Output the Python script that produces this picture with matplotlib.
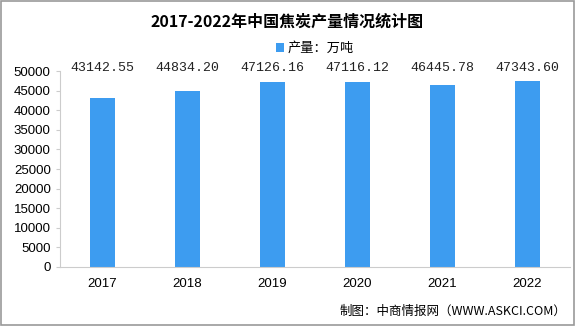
import matplotlib.pyplot as plt
from matplotlib.patches import Rectangle

plt.rcParams['font.family'] = ['Noto Sans CJK SC', 'DejaVu Sans']

years = ['2017', '2018', '2019', '2020', '2021', '2022']
output = [43142.55, 44834.20, 47126.16, 47116.12, 46445.78, 47343.60]
yticks = list(range(0, 50001, 5000))

fig = plt.figure(figsize=(5.75, 3.26), dpi=100)
ax = fig.add_axes([0.104, 0.181, 0.887, 0.601])

bar_color = '#3d9cf0'
ax.bar(years, output, width=0.3, color=bar_color, label='产量：万吨')

# value labels, all on one line at the top of the plot
for i, v in enumerate(output):
    ax.text(i, 50800, f'{v:.2f}', ha='center', va='center', clip_on=False,
            fontsize=9.5, family='Liberation Mono', color='#222222')

ax.set_ylim(0, 50000)
ax.set_xlim(-0.5, 5.5)
ax.set_yticks(yticks)
ax.tick_params(axis='y', length=3, color='#cccccc', labelsize=9.5)
ax.tick_params(axis='x', length=0, labelsize=9.5, pad=8)
for lab in ax.get_xticklabels() + ax.get_yticklabels():
    lab.set_family('Liberation Sans')
for s in ['top', 'right']:
    ax.spines[s].set_visible(False)
ax.spines['left'].set_color('#cccccc')
ax.spines['bottom'].set_color('#cccccc')

fig.text(0.5, 0.935, '2017-2022年中国焦炭产量情况统计图', ha='center', va='center',
         fontsize=11.5, fontweight='bold')
ax.legend(loc='center', bbox_to_anchor=(0.5, 1.115), frameon=False,
          fontsize=9.5, handlelength=0.6, handleheight=0.6, handletextpad=0.3)

fig.text(0.985, 0.045, '制图：中商情报网（WWW.ASKCI.COM）', ha='right', va='center',
         fontsize=9)

# grey frame around the picture
fig.patches.append(Rectangle((0.001, 0.002), 0.997, 0.995, transform=fig.transFigure,
                             fill=False, edgecolor='#999999', linewidth=1.2))

fig.savefig('out.png', dpi=100)
